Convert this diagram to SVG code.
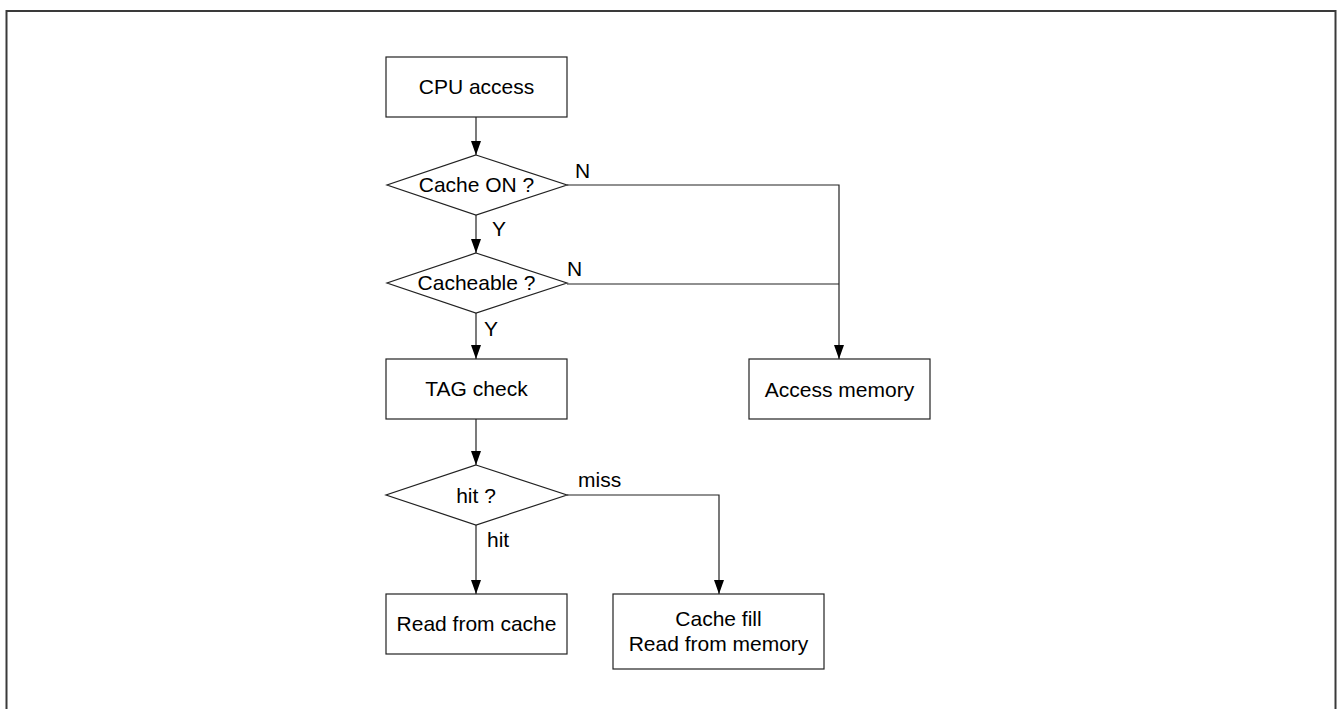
<svg xmlns="http://www.w3.org/2000/svg" width="1340" height="709" viewBox="0 0 1340 709">
<defs>
<style>
.frame{fill:none;stroke:#3a3a3a;stroke-width:2}
.box{fill:#fff;stroke:#222;stroke-width:1.2}
.ln{fill:none;stroke:#222;stroke-width:1.2}
.t{font-family:"Liberation Sans",Arial,sans-serif;font-size:21px;fill:#000}
.m{text-anchor:middle}
</style>
<marker id="ah" viewBox="0 0 14 10" refX="14" refY="5" markerWidth="14" markerHeight="10" markerUnits="userSpaceOnUse" orient="auto">
<path d="M0,0 L14,5 L0,10 z" fill="#000"/>
</marker>
</defs>
<rect x="0" y="0" width="1340" height="709" fill="#fff"/>
<rect class="frame" x="6.5" y="11" width="1329" height="710"/>
<g id="connectors">
<line class="ln" x1="476" y1="117" x2="476" y2="155" marker-end="url(#ah)"/>
<line class="ln" x1="476" y1="215" x2="476" y2="253" marker-end="url(#ah)"/>
<line class="ln" x1="476" y1="313" x2="476" y2="359" marker-end="url(#ah)"/>
<line class="ln" x1="476" y1="419" x2="476" y2="465" marker-end="url(#ah)"/>
<line class="ln" x1="476" y1="525" x2="476" y2="594" marker-end="url(#ah)"/>
<polyline class="ln" points="567,185 839,185 839,359" marker-end="url(#ah)"/>
<line class="ln" x1="567" y1="284" x2="839" y2="284"/>
<polyline class="ln" points="567,495 719,495 719,594" marker-end="url(#ah)"/>
<text class="t" x="575" y="178">N</text>
<text class="t" x="492" y="236">Y</text>
<text class="t" x="567" y="276">N</text>
<text class="t" x="484" y="336">Y</text>
<text class="t" x="578" y="487">miss</text>
<text class="t" x="487" y="547">hit</text>
</g>
<g id="cpu-access">
<rect class="box" x="386" y="57" width="181" height="60"/>
<text class="t m" x="476.5" y="94">CPU access</text>
</g>
<g id="cache-on">
<polygon class="box" points="476,155 567,185 476,215 387,185"/>
<text class="t m" x="476.5" y="192">Cache ON ?</text>
</g>
<g id="cacheable">
<polygon class="box" points="476,253 567,283 476,313 387,283"/>
<text class="t m" x="476.5" y="290">Cacheable ?</text>
</g>
<g id="tag-check">
<rect class="box" x="386" y="359" width="181" height="60"/>
<text class="t m" x="476.5" y="396">TAG check</text>
</g>
<g id="access-memory">
<rect class="box" x="749" y="359" width="181" height="60"/>
<text class="t m" x="839.5" y="397">Access memory</text>
</g>
<g id="hit-check">
<polygon class="box" points="476,465 567,495 476,525 386,495"/>
<text class="t m" x="476" y="503">hit ?</text>
</g>
<g id="read-from-cache">
<rect class="box" x="386" y="594" width="181" height="60"/>
<text class="t m" x="476.5" y="631">Read from cache</text>
</g>
<g id="cache-fill">
<rect class="box" x="613" y="594" width="211" height="75"/>
<text class="t m" x="718.5" y="626">Cache fill</text>
<text class="t m" x="718.5" y="651">Read from memory</text>
</g>
</svg>
